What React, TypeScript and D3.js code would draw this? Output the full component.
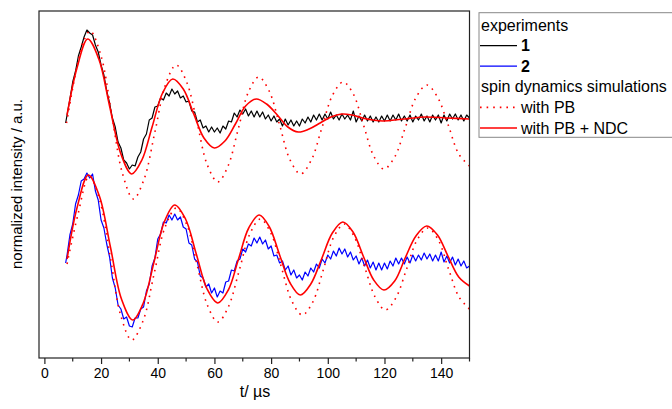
import React, { useEffect, useRef } from 'react'
import * as d3 from 'd3'

// time axis (µs)
const xTicks = [0, 20, 40, 60, 80, 100, 120, 140]
const xMinor = [10, 30, 50, 70, 90, 110, 130, 150]

// experiment 1 (black), sampled every 1 µs from 8 µs, first point at 7.5 µs
const exp1 = [
  1.27, 1.35, 1.51, 1.68, 1.79, 1.94, 2.03, 2.13, 2.2, 2.17, 2.15, 2.05, 1.98, 1.85, 1.75, 1.59,
  1.47, 1.32, 1.23, 1.08, 1.02, 0.9, 0.87, 0.81, 0.85, 0.84, 0.93, 0.98, 1.11, 1.16, 1.3, 1.32,
  1.43, 1.44, 1.52, 1.5, 1.57, 1.54, 1.61, 1.56, 1.59, 1.52, 1.54, 1.48, 1.49, 1.39, 1.38, 1.28,
  1.3, 1.22, 1.24, 1.18, 1.23, 1.18, 1.22, 1.17, 1.24, 1.21, 1.29, 1.28, 1.37, 1.33, 1.4, 1.36,
  1.41, 1.34, 1.39, 1.33, 1.39, 1.33, 1.38, 1.31, 1.35, 1.29, 1.34, 1.28, 1.31, 1.24, 1.31, 1.25,
  1.3, 1.24, 1.29, 1.24, 1.31, 1.27, 1.33, 1.28, 1.35, 1.3, 1.36, 1.3, 1.36, 1.31, 1.38, 1.31,
  1.35, 1.3, 1.36, 1.31, 1.35, 1.3, 1.39, 1.28, 1.34, 1.29, 1.35, 1.29, 1.34, 1.28, 1.33, 1.28,
  1.34, 1.29, 1.35, 1.29, 1.35, 1.3, 1.36, 1.29, 1.34, 1.29, 1.35, 1.28, 1.34, 1.3, 1.36, 1.29,
  1.34, 1.28, 1.35, 1.3, 1.35, 1.27, 1.35, 1.29, 1.36, 1.31, 1.36, 1.3, 1.35, 1.29, 1.35, 1.32,
]

// experiment 2 (blue), same sampling
const exp2 = [
  -0.13, -0.05, 0.15, 0.26, 0.46, 0.55, 0.69, 0.71, 0.77, 0.72, 0.76, 0.59, 0.5, 0.3, 0.22, 0.06,
  -0.07, -0.28, -0.38, -0.55, -0.59, -0.69, -0.67, -0.76, -0.77, -0.68, -0.68, -0.59, -0.57, -0.41, -0.34, -0.16,
  -0.08, 0.11, 0.16, 0.28, 0.27, 0.35, 0.3, 0.36, 0.3, 0.33, 0.23, 0.21, 0.07, 0.05, -0.09, -0.12,
  -0.26, -0.28, -0.37, -0.34, -0.43, -0.38, -0.47, -0.41, -0.43, -0.32, -0.31, -0.2, -0.21, -0.11, -0.09, 0.01,
  -0.02, 0.06, 0.04, 0.12, 0.07, 0.13, 0.06, 0.1, 0.01, 0.04, -0.06, -0.05, -0.13, -0.11, -0.2, -0.16,
  -0.25, -0.2, -0.28, -0.25, -0.3, -0.22, -0.26, -0.18, -0.22, -0.14, -0.18, -0.09, -0.13, -0.05, -0.09, -0.01,
  -0.06, 0.02, -0.04, 0.01, -0.07, -0.02, -0.1, -0.06, -0.14, -0.08, -0.16, -0.1, -0.18, -0.12, -0.2, -0.13,
  -0.2, -0.13, -0.19, -0.11, -0.16, -0.08, -0.14, -0.08, -0.14, -0.07, -0.13, -0.05, -0.11, -0.05, -0.1, -0.03,
  -0.09, -0.04, -0.11, -0.05, -0.11, -0.02, -0.12, -0.06, -0.13, -0.07, -0.15, -0.09, -0.16, -0.11, -0.18, -0.16,
]

// simulations: [t, intensity]
const simPB1: [number, number][] = [
  [7.8, 1.27], [10, 1.62], [12, 1.9], [14, 2.1], [16.2, 2.19], [20, 1.94], [23.8, 1.35], [27.6, 0.76],
  [31.4, 0.51], [35.2, 0.71], [39, 1.18], [42.7, 1.65], [46.5, 1.85], [50.2, 1.68], [53.9, 1.27], [57.5, 0.85],
  [61.2, 0.68], [64.8, 0.84], [68.4, 1.21], [72, 1.58], [75.6, 1.73], [79.3, 1.59], [83, 1.25], [86.7, 0.9],
  [90.4, 0.76], [94.2, 0.9], [97.9, 1.22], [101.7, 1.55], [105.4, 1.68], [109, 1.56], [112.6, 1.25], [116.2, 0.94],
  [119.8, 0.81], [123.6, 0.93], [127.4, 1.23], [131.2, 1.53], [135, 1.65], [138.7, 1.53], [142.5, 1.25], [146.2, 0.96],
  [150, 0.84],
]
const simNDC1: [number, number][] = [
  [8, 1.35], [11.5, 1.82], [15.3, 2.11], [19.2, 1.91], [23, 1.44], [27, 0.96], [30.8, 0.76], [34.4, 0.9],
  [38, 1.23], [41.7, 1.57], [45.3, 1.71], [49, 1.61], [52.7, 1.36], [56.3, 1.12], [60, 1.02], [63.7, 1.09],
  [67.4, 1.26], [71, 1.44], [74.7, 1.51], [78.4, 1.46], [82.2, 1.35], [85.9, 1.23], [89.6, 1.18], [93.4, 1.21],
  [97.3, 1.27], [101.1, 1.33], [104.9, 1.36], [108.5, 1.35], [112.2, 1.32], [115.9, 1.3], [119.5, 1.29], [127, 1.31],
  [134.5, 1.33], [142, 1.32], [150, 1.31],
]
const simPB2: [number, number][] = [
  [8, -0.14], [11.8, 0.35], [15.8, 0.74], [19.5, 0.5], [23.3, -0.08], [27, -0.66], [30.8, -0.9], [34.8, -0.71],
  [38.7, -0.24], [42.6, 0.23], [46.6, 0.42], [50.3, 0.25], [53.9, -0.15], [57.5, -0.55], [61.2, -0.72], [64.9, -0.57],
  [68.7, -0.21], [72.5, 0.16], [76.2, 0.31], [79.9, 0.17], [83.6, -0.17], [87.3, -0.51], [91, -0.65], [94.7, -0.52],
  [98.4, -0.2], [102.1, 0.13], [105.8, 0.26], [109.4, 0.13], [113, -0.17], [116.7, -0.47], [120.3, -0.6], [124, -0.48],
  [127.8, -0.19], [131.5, 0.1], [135.3, 0.22], [139, 0.1], [142.6, -0.19], [146.3, -0.47], [150, -0.59],
]
const simNDC2: [number, number][] = [
  [8, -0.09], [11.5, 0.42], [15.5, 0.75], [19.4, 0.54], [23.3, 0.03], [27.2, -0.49], [31.2, -0.7], [34.9, -0.53],
  [38.6, -0.13], [42.3, 0.28], [46, 0.45], [49.8, 0.31], [53.6, -0.04], [57.4, -0.39], [61.2, -0.53], [64.9, -0.4],
  [68.5, -0.09], [72.1, 0.22], [75.8, 0.35], [79.4, 0.23], [83, -0.05], [86.7, -0.33], [90.3, -0.45], [94, -0.34],
  [97.8, -0.09], [101.6, 0.17], [105.3, 0.28], [108.9, 0.18], [112.5, -0.06], [116.2, -0.3], [119.8, -0.4], [123.6, -0.31],
  [127.3, -0.08], [131.1, 0.14], [134.9, 0.24], [138.7, 0.15], [142.4, -0.06], [146.2, -0.27], [150, -0.36],
]

const legendRows = ['experiments', '1', '2', 'spin dynamics simulations', 'with PB', 'with PB + NDC']

const expTime = (i: number) => (i === 0 ? 7.5 : 7 + i)

const App = () => {
  const ref = useRef<SVGSVGElement>(null)

  useEffect(() => {
    const svg = d3.select(ref.current)
    svg.selectAll('*').remove()
    const font = '"Liberation Sans", Arial, sans-serif'

    const x = d3.scaleLinear().domain([-1.9, 150]).range([39, 469.5])
    const y = d3.scaleLinear().domain([-1.08, 2.39]).range([358, 11])

    const g = svg.append('g')

    // experiments
    const expLine = d3.line<number>()
      .x((d, i) => x(expTime(i)))
      .y((d) => y(d))
    g.append('path').datum(exp1)
      .attr('fill', 'none').attr('stroke', '#000').attr('stroke-width', 1.2)
      .attr('stroke-linejoin', 'round').attr('d', expLine)
    g.append('path').datum(exp2)
      .attr('fill', 'none').attr('stroke', '#0000ff').attr('stroke-width', 1.2)
      .attr('stroke-linejoin', 'round').attr('d', expLine)

    // simulations
    const simLine = d3.line<[number, number]>()
      .x((d) => x(d[0]))
      .y((d) => y(d[1]))
      .curve(d3.curveCatmullRom)
    ;[simPB1, simPB2].forEach((s) => {
      g.append('path').datum(s)
        .attr('fill', 'none').attr('stroke', '#ff0000').attr('stroke-width', 1.6)
        .attr('stroke-dasharray', '1.6 5').attr('d', simLine)
    })
    ;[simNDC1, simNDC2].forEach((s) => {
      g.append('path').datum(s)
        .attr('fill', 'none').attr('stroke', '#ff0000').attr('stroke-width', 1.6)
        .attr('d', simLine)
    })

    // frame
    svg.append('rect')
      .attr('x', 39).attr('y', 11).attr('width', 430.5).attr('height', 347)
      .attr('fill', 'none').attr('stroke', '#222').attr('stroke-width', 1.2)

    // x axis
    const ax = svg.append('g').attr('transform', 'translate(0,358)')
    ax.call(d3.axisBottom(x).tickValues(xTicks).tickSize(6).tickPadding(4).tickFormat(d3.format('d')) as any)
    ax.select('.domain').remove()
    ax.selectAll('line').attr('stroke', '#222').attr('stroke-width', 1.2)
    ax.selectAll('text').attr('font-size', 14).attr('font-family', font).attr('fill', '#000')
    ax.selectAll('.minor').data(xMinor).enter().append('line')
      .attr('x1', (d) => x(d)).attr('x2', (d) => x(d))
      .attr('y1', 0).attr('y2', 3.5)
      .attr('stroke', '#222').attr('stroke-width', 1.2)

    svg.append('text')
      .attr('x', 255).attr('y', 397).attr('text-anchor', 'middle')
      .attr('font-family', font).attr('font-size', 16)
      .text('t/ µs')

    svg.append('text')
      .attr('transform', 'translate(22,184) rotate(-90)')
      .attr('text-anchor', 'middle')
      .attr('font-family', font).attr('font-size', 15)
      .text('normalized intensity / a.u.')

    // legend
    const lg = svg.append('g')
    lg.append('rect')
      .attr('x', 479).attr('y', 12.7).attr('width', 200).attr('height', 124.6)
      .attr('fill', '#fff').attr('stroke', '#888').attr('stroke-width', 1)
    legendRows.forEach((label, i) => {
      const cy = 25 + i * 20.6
      const indented = i === 1 || i === 2 || i === 4 || i === 5
      if (indented) {
        const ln = lg.append('line')
          .attr('x1', 480).attr('x2', 517).attr('y1', cy).attr('y2', cy)
          .attr('stroke', i === 1 ? '#000' : i === 2 ? '#0000ff' : '#ff0000')
          .attr('stroke-width', i >= 4 ? 1.6 : 1.2)
        if (i === 4) ln.attr('stroke-dasharray', '1.6 5')
      }
      lg.append('text')
        .attr('x', indented ? 521 : 481).attr('y', cy + 5.5)
        .attr('font-family', font).attr('font-size', 16)
        .attr('font-weight', i === 1 || i === 2 ? 'bold' : 'normal')
        .text(label)
    })
  }, [])

  return (
    <svg ref={ref} width={672} height={409}
      style={{ position: 'absolute', left: 0, top: 0, background: '#fff' }} />
  )
}

export default App
